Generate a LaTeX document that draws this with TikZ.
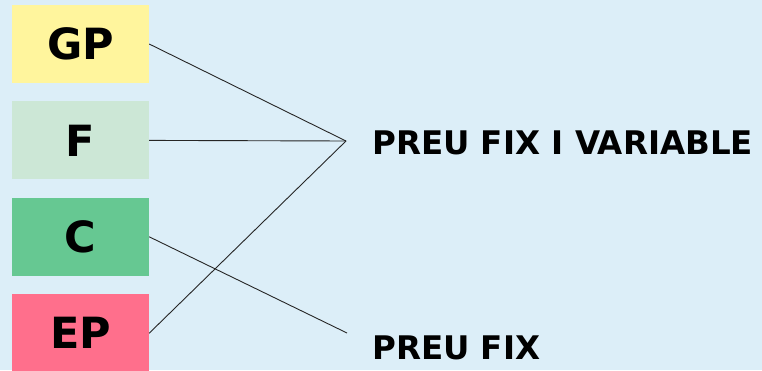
\documentclass[tikz,border=0pt]{standalone}
\usepackage{fontspec}
\setmainfont{DejaVu Sans}
\usetikzlibrary{positioning}
\definecolor{bgblue}{RGB}{220,238,248}
\definecolor{gpyellow}{RGB}{255,245,157}
\definecolor{fgreen}{RGB}{204,231,214}
\definecolor{cgreen}{RGB}{102,200,146}
\definecolor{eppink}{RGB}{255,111,140}
\tikzset{
letterbox/.style={
  rectangle,
  minimum width=137pt,
  minimum height=78pt,
  inner sep=0pt,
  font=\fontsize{43}{43}\selectfont\bfseries
  },
pricelabel/.style={
  anchor=base west,
  inner sep=0pt,
  font=\fontsize{32.5}{33}\selectfont\bfseries
  },
link/.style={
  line width=0.9pt,
  draw=black!85
  }
}

\begin{document}
\begin{tikzpicture}[x=1pt,y=1pt,node distance=18pt]

\fill[bgblue] (0,0) rectangle (762,370);
\useasboundingbox (0,0) rectangle (762,370);

\node[letterbox,fill=gpyellow] (gp) at (80.5,326) {GP};
\node[letterbox,fill=fgreen,below=of gp] (f) {F};
\node[letterbox,fill=cgreen,below=of f] (c) {C};
\node[letterbox,fill=eppink,below=of c] (ep) {EP};

\node[pricelabel] (mixed) at (372,215) {PREU FIX I VARIABLE};
\node[pricelabel] (fixed) at (372,11) {PREU FIX};

\coordinate (mixed-in) at (346,229);
\coordinate (fixed-in) at (347,37);

\draw[link] (gp.east) -- (mixed-in);
\draw[link] (f.east) -- (mixed-in);
\draw[link] (ep.east) -- (mixed-in);
\draw[link] (c.east) -- (fixed-in);

\end{tikzpicture}
\end{document}
